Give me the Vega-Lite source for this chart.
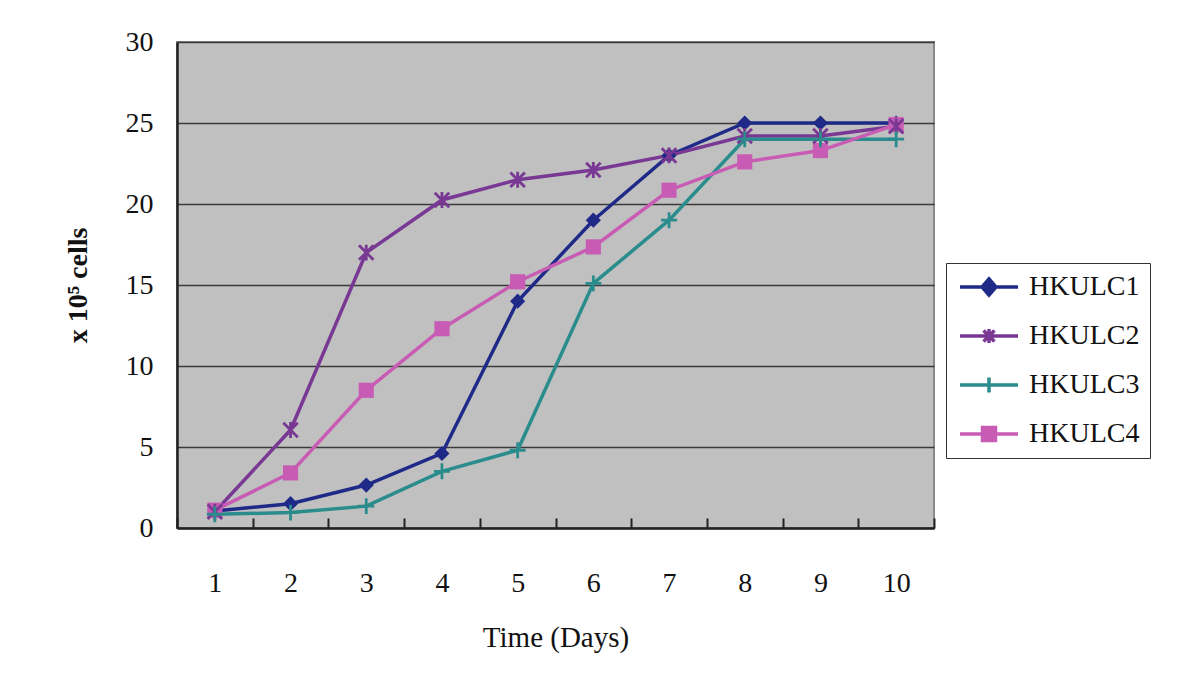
{
  "$schema": "https://vega.github.io/schema/vega-lite/v6.json",
  "autosize": "none",
  "padding": {"left": 177, "top": 42, "right": 258, "bottom": 146},
  "width": 757,
  "height": 486,
  "background": "white",
  "config": {
    "font": "Liberation Serif",
    "view": {"fill": "#c0c0c0", "stroke": "#8a8a8a", "strokeWidth": 2}
  },
  "data": {
    "values": [
      {"day": 1, "series": "HKULC1", "v": 1.05},
      {"day": 2, "series": "HKULC1", "v": 1.5},
      {"day": 3, "series": "HKULC1", "v": 2.65},
      {"day": 4, "series": "HKULC1", "v": 4.6},
      {"day": 5, "series": "HKULC1", "v": 14.0},
      {"day": 6, "series": "HKULC1", "v": 19.0},
      {"day": 7, "series": "HKULC1", "v": 23.0},
      {"day": 8, "series": "HKULC1", "v": 25.0},
      {"day": 9, "series": "HKULC1", "v": 25.0},
      {"day": 10, "series": "HKULC1", "v": 25.0},
      {"day": 1, "series": "HKULC2", "v": 1.0},
      {"day": 2, "series": "HKULC2", "v": 6.05},
      {"day": 3, "series": "HKULC2", "v": 17.0},
      {"day": 4, "series": "HKULC2", "v": 20.25},
      {"day": 5, "series": "HKULC2", "v": 21.5},
      {"day": 6, "series": "HKULC2", "v": 22.1},
      {"day": 7, "series": "HKULC2", "v": 23.0},
      {"day": 8, "series": "HKULC2", "v": 24.2},
      {"day": 9, "series": "HKULC2", "v": 24.2},
      {"day": 10, "series": "HKULC2", "v": 24.8},
      {"day": 1, "series": "HKULC3", "v": 0.85},
      {"day": 2, "series": "HKULC3", "v": 0.95},
      {"day": 3, "series": "HKULC3", "v": 1.35},
      {"day": 4, "series": "HKULC3", "v": 3.5},
      {"day": 5, "series": "HKULC3", "v": 4.8},
      {"day": 6, "series": "HKULC3", "v": 15.1},
      {"day": 7, "series": "HKULC3", "v": 19.0},
      {"day": 8, "series": "HKULC3", "v": 24.0},
      {"day": 9, "series": "HKULC3", "v": 24.0},
      {"day": 10, "series": "HKULC3", "v": 24.0},
      {"day": 1, "series": "HKULC4", "v": 1.1},
      {"day": 2, "series": "HKULC4", "v": 3.4},
      {"day": 3, "series": "HKULC4", "v": 8.5},
      {"day": 4, "series": "HKULC4", "v": 12.3},
      {"day": 5, "series": "HKULC4", "v": 15.2},
      {"day": 6, "series": "HKULC4", "v": 17.35},
      {"day": 7, "series": "HKULC4", "v": 20.85},
      {"day": 8, "series": "HKULC4", "v": 22.6},
      {"day": 9, "series": "HKULC4", "v": 23.3},
      {"day": 10, "series": "HKULC4", "v": 24.9}
    ]
  },
  "encoding": {
    "x": {
      "field": "day", "type": "ordinal",
      "scale": {"type": "band", "paddingInner": 0, "paddingOuter": 0},
      "axis": {
        "title": "Time (Days)", "titleFont": "Liberation Serif", "titleFontSize": 29, "titleFontWeight": "normal", "titleColor": "#111",
        "titlePadding": 26,
        "labelAngle": 0, "labelFont": "Liberation Serif", "labelFontSize": 28, "labelColor": "#111",
        "labelPadding": 51,
        "tickBand": "extent", "tickSize": -10, "tickColor": "#222", "tickWidth": 2,
        "domainColor": "#222", "domainWidth": 2.5, "grid": false
      }
    },
    "y": {
      "field": "v", "type": "quantitative",
      "scale": {"domain": [0, 30], "nice": false},
      "axis": {
        "title": "x 10⁵ cells", "titleFont": "Liberation Serif", "titleFontSize": 28, "titleFontWeight": "bold", "titleColor": "#111",
        "titlePadding": 33,
        "values": [0, 5, 10, 15, 20, 25, 30],
        "labelFont": "Liberation Serif", "labelFontSize": 28, "labelColor": "#111", "labelPadding": 24,
        "ticks": false, "domainColor": "#222", "domainWidth": 2.5,
        "grid": true, "gridColor": "#3a3a3a", "gridWidth": 1.5
      }
    },
    "color": {
      "field": "series", "type": "nominal",
      "scale": {"domain": ["HKULC1", "HKULC2", "HKULC3", "HKULC4"], "range": ["#1f2a88", "#783893", "#2a8c8c", "#c85cb4"]},
      "legend": {
        "title": null, "orient": "none", "legendX": 769, "legendY": 221,
        "fillColor": "white", "strokeColor": "#333", "padding": 10,
        "labelFont": "Liberation Serif", "labelFontSize": 28, "labelColor": "#111",
        "symbolSize": 400, "labelOffset": 45, "rowPadding": 20,
        "encode": {
          "symbols": {
            "update": {
              "shape": {"signal": "datum.value === 'HKULC1' ? 'M-1,0H4.8M1.9,-0.8L2.6,0L1.9,0.8L1.2,0Z' : datum.value === 'HKULC2' ? 'M-1,0H4.8M1.35,-0.55L2.45,0.55M1.35,0.55L2.45,-0.55M1.9,-0.7V0.7' : datum.value === 'HKULC3' ? 'M-1,0H4.8M1.9,-0.75V0.75' : 'M-1,0H4.8M1.25,-0.65H2.55V0.65H1.25Z'"},
              "fill": {"scale": "color", "field": "value"},
              "stroke": {"scale": "color", "field": "value"},
              "strokeWidth": {"value": 3.5},
              "opacity": {"value": 1}
            }
          }
        }
      }
    }
  },
  "layer": [
    {"mark": {"type": "line", "strokeWidth": 3.5}},
    {
      "transform": [{"filter": "datum.series === 'HKULC1' || datum.series === 'HKULC4'"}],
      "mark": {"type": "point", "filled": true, "opacity": 1, "size": 230},
      "encoding": {
        "shape": {"field": "series", "type": "nominal", "scale": {"domain": ["HKULC1", "HKULC4"], "range": ["diamond", "square"]}, "legend": null}
      }
    },
    {
      "transform": [{"filter": "datum.series === 'HKULC2' || datum.series === 'HKULC3'"}],
      "mark": {"type": "point", "filled": false, "opacity": 1, "size": 210, "strokeWidth": 2.8},
      "encoding": {
        "shape": {"field": "series", "type": "nominal", "scale": {"domain": ["HKULC2", "HKULC3"], "range": ["M-1,-1L1,1M-1,1L1,-1M0,-1.1V1.1", "M-1.1,0H1.1M0,-1.1V1.1"]}, "legend": null}
      }
    }
  ],
  "resolve": {"scale": {"shape": "independent"}}
}
